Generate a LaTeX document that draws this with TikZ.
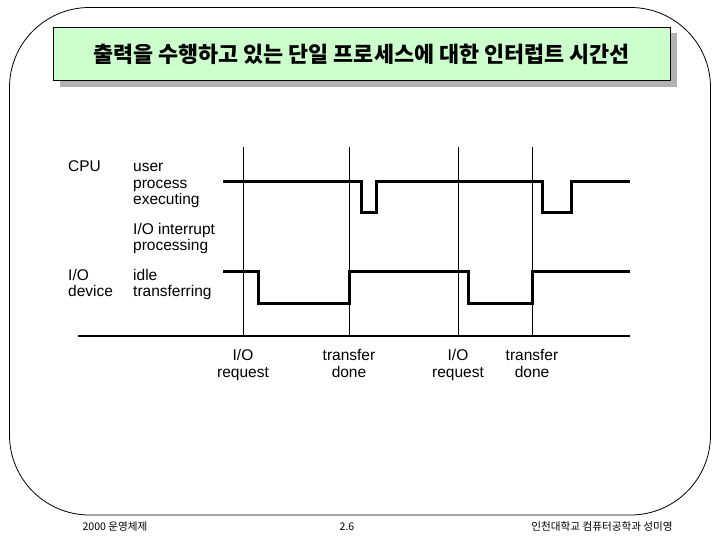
\documentclass[tikz,border=0pt]{standalone}
\usepackage{fontspec}
\setmainfont{Liberation Sans}
\newfontfamily\kr{Noto Sans CJK KR}
\usetikzlibrary{positioning,shadows}
\definecolor{ttlgreen}{RGB}{204,255,204}
\begin{document}
\begin{tikzpicture}[x=1pt, y=-1pt, txt/.style={font=\fontsize{15.5}{17}\selectfont, anchor=base west, inner sep=0}, sig/.style={line width=3pt}, guide/.style={line width=0.9pt}, foot/.style={font=\kr\fontsize{10.6}{12}\selectfont, inner sep=0}]
\useasboundingbox (0,0) rectangle (720,540);
\draw[line width=0.8pt, rounded corners=80pt] (9.5,7.5) rectangle (710.5,515);
\node[draw, line width=1pt, fill=ttlgreen, minimum width=617pt, minimum height=53.5pt, drop shadow={shadow xshift=7pt, shadow yshift=-6pt, fill=black!30, opacity=1}, font=\kr\bfseries\fontsize{21.8}{24}\selectfont] (ttl) at (361.5,54.25) {출력을 수행하고 있는 단일 프로세스에 대한 인터럽트 시간선};
% row labels
\node[txt] (cpu) at (68,172) {CPU}; \node[txt] (usr) at (133,172) {user}; \node[txt] (prc) at (133,188.5) {process}; \node[txt] (exe) at (133,205) {executing};
\node[txt] (irq) at (133,234) {I/O interrupt}; \node[txt] (irp) at (133,250.5) {processing};
\node[txt] (dev) at (68,280) {I/O}; \node[txt] (dv2) at (68,296.5) {device}; \node[txt] (idl) at (133,280) {idle}; \node[txt] (trf) at (133,296.5) {transferring};
% time marks
\foreach \n/\x/\l in {rq1/243/{I/O\\request}, dn1/349/{transfer\\done}, rq2/458/{I/O\\request}, dn2/532/{transfer\\done}} {\coordinate (\n) at (\x,147); \coordinate (\n b) at (\x,336); \draw[guide] (\n) -- (\n b); \node[txt, align=center, anchor=north] (\n l) at (\x,349) {\l};}
\draw[line width=2.5pt] (78,336) -- (630,336);
% signals
\draw[sig] (223,182) -- (361,182) -- (361,213) -- (376,213) -- (376,182) -- (542,182) -- (542,213) -- (571,213) -- (571,182) -- (630,182);
\draw[sig] (223,271) -| (258,303) -| (349,271) -| (468,303) -| (532,271) -- (630,271);
\node[foot] (fl) at (115,527) {2000 운영체제}; \node[foot] (fc) at (347,527) {2.6}; \node[foot] (fr) at (602,527) {인천대학교 컴퓨터공학과 성미영};
\end{tikzpicture}
\end{document}
